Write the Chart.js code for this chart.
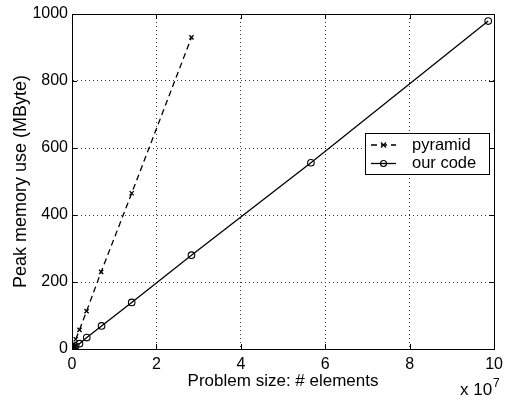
<!DOCTYPE html>
<html>
<head>
<meta charset="utf-8">
<script src="https://cdn.jsdelivr.net/npm/chart.js@4/dist/chart.umd.min.js"></script>
<style>
  html, body { margin: 0; padding: 0; background: #fff; }
  #wrap { width: 509px; height: 401px; }
</style>
</head>
<body>
<div id="wrap"><canvas id="memChart" width="509" height="401"></canvas></div>
<script>
// problem size in units of 1e7 elements, peak memory in MByte
const pyramidSize = [0.0055, 0.011, 0.022, 0.044, 0.088, 0.177, 0.345, 0.69, 1.414, 2.83];
const pyramidMem  = [2, 4, 8, 15, 29, 57, 113, 230, 465, 930];
const ourSize = [0.0055, 0.011, 0.022, 0.044, 0.088, 0.177, 0.35, 0.70, 1.414, 2.83, 5.66, 9.86];
const ourMem  = [1, 2, 3, 5, 9, 16, 34, 69, 139, 280, 556, 979];
const seriesLabels = ['pyramid', 'our code'];
const xTicks = [0, 2, 4, 6, 8, 10];
const yTicks = [0, 200, 400, 600, 800, 1000];

const FONT = 'Liberation Sans, Arial, Helvetica, sans-serif';

const toPoints = (xs, ys) => xs.map((x, i) => ({ x: x, y: ys[i] }));

// box around the plot with inward ticks (matlab look)
const frame = {
    id: 'frame',
    afterDraw(chart) {
        const { ctx, chartArea: a, scales } = chart;
        ctx.save();
        ctx.strokeStyle = '#000';
        ctx.lineWidth = 1;
        ctx.strokeRect(Math.round(a.left) + 0.5, Math.round(a.top) + 0.5,
            Math.round(a.right - a.left), Math.round(a.bottom - a.top));
        ctx.beginPath();
        xTicks.forEach(v => {
            const px = Math.round(scales.x.getPixelForValue(v)) + 0.5;
            ctx.moveTo(px, a.bottom); ctx.lineTo(px, a.bottom - 5);
            ctx.moveTo(px, a.top); ctx.lineTo(px, a.top + 5);
        });
        yTicks.forEach(v => {
            const py = Math.round(scales.y.getPixelForValue(v)) + 0.5;
            ctx.moveTo(a.left, py); ctx.lineTo(a.left + 5, py);
            ctx.moveTo(a.right, py); ctx.lineTo(a.right - 5, py);
        });
        ctx.stroke();

        // exponent label
        ctx.fillStyle = '#000';
        ctx.textBaseline = 'alphabetic';
        ctx.textAlign = 'left';
        ctx.font = '17px ' + FONT;
        ctx.fillText('x 10', 460, 395);
        ctx.font = '12px ' + FONT;
        ctx.fillText('7', 493, 387);
        ctx.restore();
    }
};

const legendBox = {
    id: 'legendBox',
    afterDatasetsDraw(chart) {
        const ctx = chart.ctx;
        ctx.save();
        ctx.fillStyle = '#fff';
        ctx.fillRect(365, 133, 124, 41);
        ctx.strokeStyle = '#000';
        ctx.lineWidth = 1;
        ctx.strokeRect(365.5, 133.5, 124, 41);
        chart.data.datasets.forEach((ds, i) => {
            const y = 145 + i * 18.5;
            ctx.lineWidth = ds.borderWidth;
            ctx.setLineDash(ds.borderDash || []);
            ctx.beginPath();
            ctx.moveTo(371, y); ctx.lineTo(396, y);
            ctx.stroke();
            ctx.setLineDash([]);
            ctx.lineWidth = 1.2;
            ctx.beginPath();
            if (ds.pointStyle === 'crossRot') {
                ctx.moveTo(381, y - 2.5); ctx.lineTo(386, y + 2.5);
                ctx.moveTo(386, y - 2.5); ctx.lineTo(381, y + 2.5);
            } else {
                ctx.arc(383.5, y, 3, 0, Math.PI * 2);
            }
            ctx.stroke();
            ctx.fillStyle = '#000';
            ctx.font = '16.5px ' + FONT;
            ctx.textBaseline = 'middle';
            ctx.fillText(ds.label, 412, y);
        });
        ctx.restore();
    }
};

new Chart(document.getElementById('memChart').getContext('2d'), {
    type: 'scatter',
    data: {
        datasets: [{
            label: seriesLabels[0],
            data: toPoints(pyramidSize, pyramidMem),
            showLine: true,
            borderColor: '#000',
            borderWidth: 1.3,
            borderDash: [6, 4],
            pointStyle: 'crossRot',
            pointRadius: 3,
            pointBorderWidth: 1.3,
            pointBorderColor: '#000',
            pointBackgroundColor: 'rgba(0,0,0,0)'
        }, {
            label: seriesLabels[1],
            data: toPoints(ourSize, ourMem),
            showLine: true,
            borderColor: '#000',
            borderWidth: 1.3,
            pointStyle: 'circle',
            pointRadius: 3.3,
            pointBorderWidth: 1.1,
            pointBorderColor: '#000',
            pointBackgroundColor: 'rgba(0,0,0,0)'
        }]
    },
    options: {
        responsive: false,
        animation: false,
        layout: { padding: { left: 0, top: 14, right: 11, bottom: 0 } },
        scales: {
            x: {
                type: 'linear',
                min: 0,
                max: 10,
                afterFit: (s) => { s.height = 52; },
                afterBuildTicks: (s) => { s.ticks = xTicks.map(v => ({ value: v })); },
                grid: { color: '#333', lineWidth: 1, drawTicks: false },
                border: { color: '#000', dash: [1, 3] },
                ticks: {
                    color: '#000', padding: 6, font: { family: FONT, size: 16 },
                    callback: (v) => String(v)
                },
                title: {
                    display: true,
                    text: 'Problem size: # elements',
                    color: '#000',
                    font: { family: FONT, size: 17 },
                    padding: { top: 0, bottom: 9 }
                }
            },
            y: {
                type: 'linear',
                min: 0,
                max: 1000,
                afterFit: (s) => { s.width = 72; },
                afterBuildTicks: (s) => { s.ticks = yTicks.map(v => ({ value: v })); },
                grid: { color: '#333', lineWidth: 1, drawTicks: false },
                border: { color: '#000', dash: [1, 3] },
                ticks: {
                    color: '#000', padding: 4, font: { family: FONT, size: 16 },
                    callback: (v) => String(v)
                },
                title: {
                    display: true,
                    text: 'Peak memory use (MByte)',
                    color: '#000',
                    font: { family: FONT, size: 18 },
                    padding: { top: 10, bottom: 0 }
                }
            }
        },
        plugins: {
            legend: { display: false },
            tooltip: { enabled: false }
        }
    },
    plugins: [frame, legendBox]
});
</script>
</body>
</html>
